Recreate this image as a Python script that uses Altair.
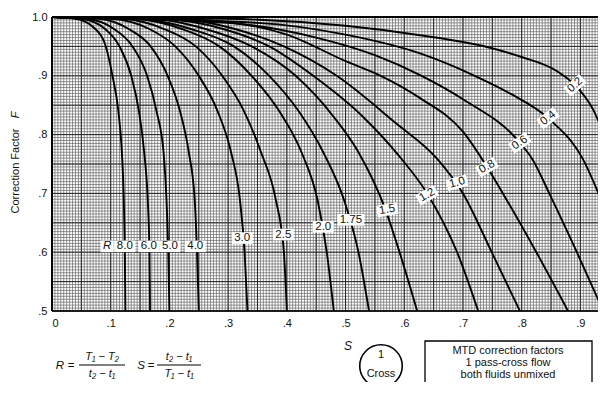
import altair as alt
import numpy as np
import pandas as pd

FONT = "Liberation Sans, Arial, Helvetica, DejaVu Sans, sans-serif"

# ---------------- data: S (x) and F (y) per curve R ----------------
s_r8_0 = [0, 0.04, 0.07, 0.09, 0.103, 0.113, 0.119, 0.122, 0.124, 0.125]
f_r8_0 = [1.0, 0.997, 0.983, 0.955, 0.90, 0.84, 0.77, 0.70, 0.60, 0.50]
s_r6_0 = [0, 0.05, 0.09, 0.115, 0.135, 0.148, 0.157, 0.163, 0.166, 0.167]
f_r6_0 = [1.0, 0.997, 0.98, 0.95, 0.90, 0.84, 0.77, 0.69, 0.60, 0.50]
s_r5_0 = [0, 0.06, 0.105, 0.137, 0.162, 0.178, 0.19, 0.195, 0.198, 0.20]
f_r5_0 = [1.0, 0.997, 0.98, 0.95, 0.90, 0.84, 0.77, 0.69, 0.60, 0.50]
s_r4_0 = [0, 0.08, 0.13, 0.168, 0.197, 0.218, 0.233, 0.243, 0.247, 0.25]
f_r4_0 = [1.0, 0.997, 0.98, 0.95, 0.90, 0.84, 0.77, 0.69, 0.60, 0.50]
s_r3_0 = [0, 0.10, 0.165, 0.21, 0.25, 0.282, 0.305, 0.32, 0.328, 0.333]
f_r3_0 = [1.0, 0.997, 0.98, 0.95, 0.90, 0.84, 0.77, 0.69, 0.60, 0.50]
s_r2_5 = [0, 0.12, 0.19, 0.245, 0.29, 0.327, 0.356, 0.381, 0.395, 0.40]
f_r2_5 = [1.0, 0.997, 0.98, 0.95, 0.90, 0.84, 0.77, 0.69, 0.60, 0.50]
s_r2_0 = [0, 0.14, 0.22, 0.285, 0.34, 0.387, 0.425, 0.452, 0.468, 0.48]
f_r2_0 = [1.0, 0.997, 0.98, 0.95, 0.90, 0.84, 0.77, 0.69, 0.60, 0.50]
s_r1_75 = [0, 0.15, 0.235, 0.31, 0.37, 0.42, 0.462, 0.497, 0.522, 0.54]
f_r1_75 = [1.0, 0.997, 0.98, 0.95, 0.90, 0.84, 0.77, 0.69, 0.60, 0.50]
s_r1_5 = [0, 0.17, 0.26, 0.34, 0.415, 0.48, 0.522, 0.567, 0.592, 0.622]
f_r1_5 = [1.0, 0.997, 0.98, 0.95, 0.90, 0.83, 0.77, 0.675, 0.60, 0.50]
s_r1_2 = [0, 0.19, 0.29, 0.37, 0.445, 0.53, 0.59, 0.639, 0.69, 0.726]
f_r1_2 = [1.0, 0.997, 0.98, 0.95, 0.90, 0.83, 0.765, 0.70, 0.60, 0.50]
s_r1_0 = [0, 0.21, 0.31, 0.395, 0.485, 0.585, 0.655, 0.70, 0.749, 0.797]
f_r1_0 = [1.0, 0.997, 0.98, 0.95, 0.90, 0.82, 0.76, 0.70, 0.60, 0.50]
s_r0_8 = [0, 0.25, 0.40, 0.50, 0.56, 0.627, 0.70, 0.741, 0.768, 0.825, 0.879]
f_r0_8 = [1.0, 0.995, 0.97, 0.925, 0.90, 0.862, 0.805, 0.745, 0.70, 0.60, 0.50]
s_r0_6 = [0, 0.30, 0.45, 0.55, 0.627, 0.70, 0.797, 0.819, 0.847, 0.894, 0.939]
f_r0_6 = [1.0, 0.99, 0.965, 0.935, 0.901, 0.86, 0.786, 0.757, 0.70, 0.60, 0.50]
s_r0_4 = [0, 0.35, 0.50, 0.627, 0.72, 0.78, 0.845, 0.905, 0.935]
f_r0_4 = [1.0, 0.99, 0.97, 0.938, 0.90, 0.87, 0.828, 0.757, 0.69]
s_r0_2 = [0, 0.30, 0.50, 0.627, 0.741, 0.80, 0.86, 0.891, 0.922, 0.942]
f_r0_2 = [1.0, 0.997, 0.985, 0.969, 0.949, 0.932, 0.908, 0.884, 0.842, 0.796]

curves = [
    ("8.0", s_r8_0, f_r8_0), ("6.0", s_r6_0, f_r6_0), ("5.0", s_r5_0, f_r5_0),
    ("4.0", s_r4_0, f_r4_0), ("3.0", s_r3_0, f_r3_0), ("2.5", s_r2_5, f_r2_5),
    ("2.0", s_r2_0, f_r2_0), ("1.75", s_r1_75, f_r1_75), ("1.5", s_r1_5, f_r1_5),
    ("1.2", s_r1_2, f_r1_2), ("1.0", s_r1_0, f_r1_0), ("0.8", s_r0_8, f_r0_8),
    ("0.6", s_r0_6, f_r0_6), ("0.4", s_r0_4, f_r0_4), ("0.2", s_r0_2, f_r0_2),
]

# curve labels (text, S, F)
label_text = ["8.0", "6.0", "5.0", "4.0", "3.0", "2.5", "2.0", "1.75", "1.5",
              "1.2", "1.0", "0.8", "0.6", "0.4", "0.2"]
label_s = [0.124, 0.165, 0.201, 0.244, 0.324, 0.394, 0.462, 0.509, 0.571,
           0.639, 0.69, 0.741, 0.797, 0.845, 0.891]
label_f = [0.61, 0.61, 0.61, 0.61, 0.624, 0.63, 0.643, 0.655, 0.672,
           0.697, 0.718, 0.745, 0.786, 0.828, 0.884]
r_symbol_s = [0.094]
r_symbol_f = [0.61]

x_ticks = [0, 0.1, 0.2, 0.3, 0.4, 0.5, 0.6, 0.7, 0.8, 0.9]
y_ticks = [0.5, 0.6, 0.7, 0.8, 0.9, 1.0]

# ---------------- build tables ----------------
rows = []
for name, ss, ff in curves:
    for i, (s, f) in enumerate(zip(ss, ff)):
        rows.append({"R": name, "i": i, "s": s, "f": f})
curve_df = pd.DataFrame(rows)

label_angle = {"1.5": 350, "1.2": 330, "1.0": 345, "0.8": 330,
               "0.6": 325, "0.4": 322, "0.2": 318}
label_df = pd.DataFrame({"t": label_text, "s": label_s, "f": label_f})
label_df["a"] = [label_angle.get(t, 0) for t in label_text]
label_df["kind"] = ["wide" if len(t) > 3 else "std" for t in label_text]

W, H = 546, 294
XMAX = 0.93
xs = alt.Scale(domain=[0, XMAX], nice=False, zero=False)
ys = alt.Scale(domain=[0.5, 1.0], nice=False, zero=False)

X_AXIS = alt.Axis(
    values=x_ticks, title=None, ticks=False, domain=False, grid=False,
    labelFont=FONT, labelFontSize=11, labelColor="#111", labelPadding=6,
    labelExpr="datum.value == 0 ? '0' : replace(format(datum.value, '.1f'), '0.', '.')")
Y_AXIS = alt.Axis(
    values=y_ticks, title=None, ticks=False, domain=False, grid=False,
    labelFont=FONT, labelFontSize=11, labelColor="#111", labelPadding=5,
    labelExpr="datum.value == 1 ? '1.0' : replace(format(datum.value, '.1f'), '0.', '.')")


def X(field):
    return alt.X(field, scale=xs, axis=X_AXIS)


def Y(field):
    return alt.Y(field, scale=ys, axis=Y_AXIS)


gx_fine = np.round(np.arange(0, XMAX + 1e-9, 0.005), 4)
gy_fine = np.round(np.arange(0.5, 1.0 + 1e-9, 0.005), 4)
gx_mid = np.round(np.arange(0, XMAX + 1e-9, 0.05), 4)
gy_mid = np.round(np.arange(0.5, 1.0 + 1e-9, 0.05), 4)


def vgrid(vals, color, width):
    return alt.Chart(pd.DataFrame({"v": vals})).mark_rule(
        color=color, strokeWidth=width).encode(x=X("v:Q"))


def hgrid(vals, color, width):
    return alt.Chart(pd.DataFrame({"v": vals})).mark_rule(
        color=color, strokeWidth=width).encode(y=Y("v:Q"))


def txt(t, x, y, size=11, style="normal", angle=0, align="center"):
    return alt.Chart(pd.DataFrame({"t": [t]})).mark_text(
        align=align, baseline="middle", fontSize=size, fontStyle=style,
        font=FONT, color="#111", angle=angle).encode(
        text="t:N", x=alt.value(x), y=alt.value(y))


def hrule(x1, x2, y, width=1.0):
    return alt.Chart(pd.DataFrame({"a": [0]})).mark_rule(
        color="black", strokeWidth=width).encode(
        x=alt.value(x1), x2=alt.value(x2), y=alt.value(y))


grids = [
    vgrid(gx_fine, "#5c5c5c", 0.65), hgrid(gy_fine, "#5c5c5c", 0.65),
    vgrid(gx_mid, "#262626", 1.0), hgrid(gy_mid, "#262626", 1.0),
]

lines = alt.Chart(curve_df).mark_line(
    color="black", strokeWidth=1.9, interpolate="monotone", clip=True
).encode(
    x=X("s:Q"), y=Y("f:Q"),
    detail="R:N",
    order=alt.Order("i:Q"),
)

box_std = alt.Chart(label_df).transform_filter("datum.kind == 'std'").mark_point(
    shape="M-1,-0.55H1V0.55H-1Z", size=441, filled=True, fill="white", opacity=1,
    strokeWidth=0).encode(
    x=X("s:Q"), y=Y("f:Q"), angle=alt.Angle("a:Q", scale=None))
box_wide = alt.Chart(label_df).transform_filter("datum.kind == 'wide'").mark_point(
    shape="M-1,-0.43H1V0.43H-1Z", size=729, filled=True, fill="white", opacity=1,
    strokeWidth=0).encode(
    x=X("s:Q"), y=Y("f:Q"), angle=alt.Angle("a:Q", scale=None))
r_df = pd.DataFrame({"t": ["R"], "s": r_symbol_s, "f": r_symbol_f})
box_r = alt.Chart(r_df).mark_point(
    shape="M-1,-0.9H1V0.9H-1Z", size=169, filled=True, fill="white", opacity=1,
    strokeWidth=0).encode(x=X("s:Q"), y=Y("f:Q"))
label_txt = alt.Chart(label_df).mark_text(
    font=FONT, fontSize=11.5, color="#111", baseline="middle", align="center").encode(
    x=X("s:Q"), y=Y("f:Q"), text="t:N", angle=alt.Angle("a:Q", scale=None))
r_txt = alt.Chart(r_df).mark_text(
    font=FONT, fontSize=11.5, fontStyle="italic", color="#111", baseline="middle").encode(
    x=X("s:Q"), y=Y("f:Q"), text="t:N")

# frame (top, left, bottom)
frame = [
    alt.Chart(pd.DataFrame({"a": [0]})).mark_rule(color="black", strokeWidth=2).encode(
        x=alt.value(0), x2=alt.value(W), y=alt.value(0)),
    alt.Chart(pd.DataFrame({"a": [0]})).mark_rule(color="black", strokeWidth=2).encode(
        x=alt.value(0), y=alt.value(0), y2=alt.value(H)),
    alt.Chart(pd.DataFrame({"a": [0]})).mark_rule(color="black", strokeWidth=1.5).encode(
        x=alt.value(0), x2=alt.value(W), y=alt.value(H)),
]

annotations = [
    txt("Correction Factor", -36, 154, size=11, angle=270),
    txt("F", -36, 98, size=11, style="italic", angle=270),
    txt("S", 296, 329, size=12, style="italic"),
    # R formula
    txt("R", 8, 349, size=11.5, style="italic"),
    txt("=", 19, 349, size=11.5),
    txt("T\u2081 \u2212 T\u2082", 50, 340, size=11, style="italic"),
    hrule(27, 73, 348),
    txt("t\u2082 \u2212 t\u2081", 50, 357, size=11, style="italic"),
    # S formula
    txt("S", 89, 349, size=11.5, style="italic"),
    txt("=", 99, 349, size=11.5),
    txt("t\u2082 \u2212 t\u2081", 127, 340, size=11, style="italic"),
    hrule(105, 149, 348),
    txt("T\u2081 \u2212 t\u2081", 127, 357, size=11, style="italic"),
    # circle
    alt.Chart(pd.DataFrame({"a": [0]})).mark_point(
        shape="circle", size=1810, filled=False, stroke="black", strokeWidth=1.6,
        opacity=1).encode(x=alt.value(329), y=alt.value(349)),
    txt("1", 329, 338, size=11),
    txt("Cross", 329, 357, size=11),
    # info box
    alt.Chart(pd.DataFrame({"a": [0]})).mark_rect(
        fill="white", stroke="black", strokeWidth=1.3).encode(
        x=alt.value(373), x2=alt.value(540), y=alt.value(324), y2=alt.value(390)),
    txt("MTD correction factors", 456, 334, size=11),
    txt("1 pass-cross flow", 456, 346, size=11),
    txt("both fluids unmixed", 456, 358, size=11),
]

chart = alt.layer(
    *grids, lines, box_std, box_wide, box_r, label_txt, r_txt, *frame, *annotations
).properties(
    width=W, height=H,
    padding={"left": 44, "top": 9, "right": 0, "bottom": 71},
    autosize=alt.AutoSizeParams(type="none"),
    background="white",
).configure_view(stroke=None)

chart.save("out.html", embed_options={"renderer": "svg", "actions": False})
